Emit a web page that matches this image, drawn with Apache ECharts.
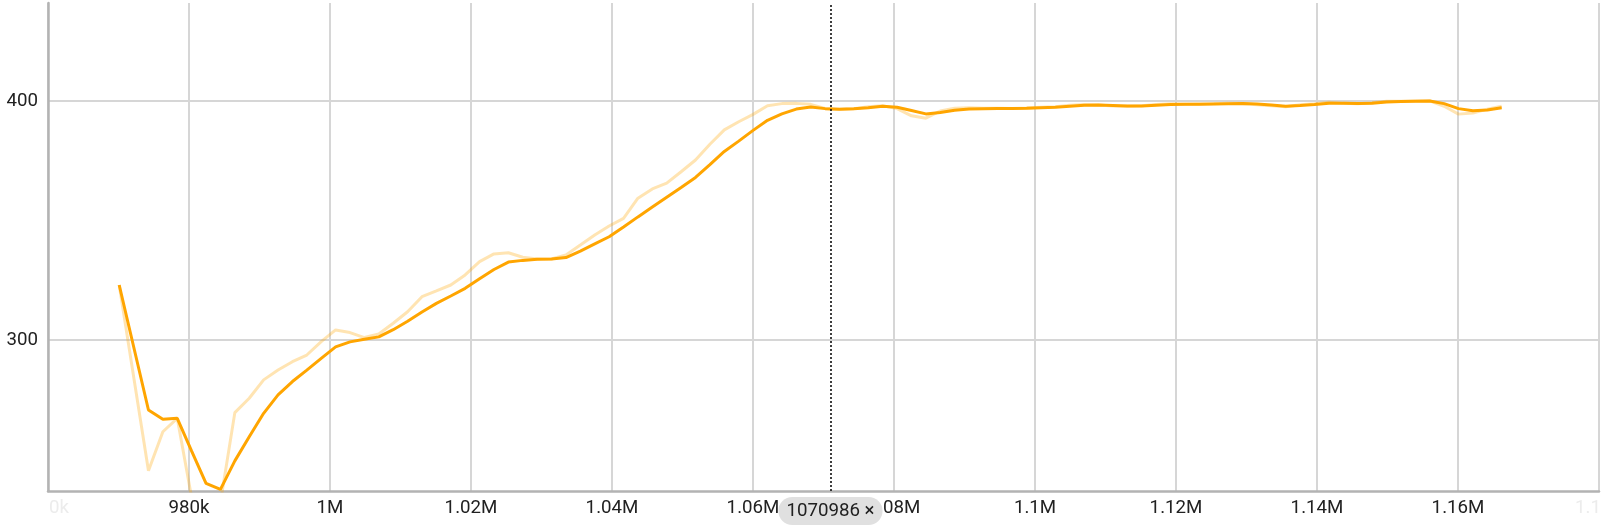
<!DOCTYPE html>
<html>
<head>
<meta charset="utf-8">
<title>scalar chart</title>
<script src="https://cdn.jsdelivr.net/npm/echarts@6/dist/echarts.min.js"></script>
<style>
	html, body {
		margin: 0;
		padding: 0;
		background: #fff;
	}
	#chart {
		width: 1614px;
		height: 527px;
	}
</style>
</head>
<body>
<div id="chart"></div>
<script>
// 横轴: step
const steps = [
	970100, 974250, 976292, 978334, 980376, 982418, 984460, 986502, 988544, 990586,
	992628, 994670, 996712, 998754, 1000796, 1002838, 1004880, 1006922, 1008964, 1011006,
	1013048, 1015090, 1017132, 1019174, 1021216, 1023258, 1025300, 1027342, 1029384, 1031426,
	1033468, 1035510, 1037552, 1039594, 1041636, 1043678, 1045720, 1047762, 1049804, 1051846,
	1053888, 1055930, 1057972, 1060014, 1062056, 1064098, 1066140, 1068182, 1070224, 1072266,
	1074308, 1076350, 1078392, 1080434, 1082476, 1084518, 1086560, 1088602, 1090644, 1092686,
	1094728, 1096770, 1098812, 1100854, 1102896, 1104938, 1106980, 1109022, 1111064, 1113106,
	1115148, 1117190, 1119232, 1121274, 1123316, 1125358, 1127400, 1129442, 1131484, 1133526,
	1135568, 1137610, 1139652, 1141694, 1143736, 1145778, 1147820, 1149862, 1151904, 1153946,
	1155988, 1158030, 1160072, 1162114, 1164156, 1166198,
]

// 平滑后的曲线（深色）
const smoothed = [
	323.0, 270.7, 266.8, 267.2, 253.5, 240.0, 237.5, 249.4, 259.5, 269.3,
	277.0, 282.6, 287.4, 292.3, 297.1, 299.2, 300.3, 301.3, 304.3, 307.8,
	311.7, 315.3, 318.4, 321.6, 325.6, 329.5, 332.6, 333.3, 333.8, 333.9,
	334.5, 337.2, 340.2, 343.2, 347.3, 351.5, 355.6, 359.7, 363.8, 368.0,
	373.4, 378.9, 383.2, 387.7, 391.9, 394.6, 396.6, 397.5, 396.8, 396.5,
	396.7, 397.2, 397.8, 397.4, 396.0, 394.6, 395.2, 396.1, 396.6, 396.8,
	396.9, 396.9, 397.0, 397.2, 397.4, 397.8, 398.2, 398.3, 398.1, 397.9,
	397.9, 398.2, 398.5, 398.6, 398.6, 398.7, 398.8, 398.9, 398.7, 398.3,
	397.8, 398.1, 398.5, 399.1, 399.1, 398.9, 399.1, 399.6, 399.8, 399.9,
	400.0, 398.9, 396.8, 395.9, 396.2, 397.2,
]

// 原始曲线（浅色）
const raw = [
	323.0, 245.3, 261.6, 267.2, 234.0, 226.0, 232.0, 269.6, 275.6, 283.3,
	287.4, 290.9, 293.7, 299.3, 304.2, 303.1, 301.0, 302.5, 307.0, 311.8,
	318.1, 320.5, 323.0, 327.2, 332.8, 336.0, 336.5, 334.6, 333.9, 333.9,
	335.6, 339.7, 343.9, 347.7, 350.9, 359.3, 363.2, 365.6, 370.4, 375.3,
	381.9, 387.9, 391.3, 394.4, 398.0, 398.9, 399.0, 398.6, 396.9, 396.5,
	396.8, 397.6, 398.0, 396.8, 393.8, 392.8, 395.8, 397.0, 397.2, 397.0,
	397.0, 396.9, 397.1, 397.4, 397.6, 398.2, 398.5, 398.3, 397.9, 397.8,
	398.0, 398.5, 398.8, 398.6, 398.7, 398.8, 399.0, 398.9, 398.4, 398.0,
	397.6, 398.4, 398.8, 399.5, 399.0, 398.8, 399.3, 399.9, 399.9, 400.0,
	400.1, 397.8, 394.5, 395.0, 396.6, 397.8,
]

// 纵轴刻度
const yTicks = [300, 400]
// 鼠标停留的位置
const hoverStep = 1070986

const font = 'Roboto, "Noto Sans", sans-serif'
const fontSize = 18.7
const lineColor = '#ffa500'

const toPairs = (vals) => steps.map((s, i) => [s, vals[i]])

const myChart = echarts.init(document.getElementById('chart'))

let option = {
	animation: false,
	grid: {
		left: 48,
		right: 15,
		top: 3,
		bottom: 36,
		containLabel: false,
		outerBoundsMode: 'none',
	},
	tooltip: {
		trigger: 'axis',
		triggerOn: 'none',
		showContent: false,
	},
	xAxis: {
		type: 'value',
		min: 960000,
		max: 1180000,
		interval: 20000,
		axisLine: { show: true, lineStyle: { color: '#b3b3b3', width: 2.5 } },
		axisTick: { show: false },
		splitLine: { show: true, lineStyle: { color: '#d6d6d6', width: 2 } },
		axisLabel: {
			margin: 8,
			fontSize: fontSize,
			fontFamily: font,
			color: '#212121',
			formatter: function (value) {
				// 两端被裁掉的标签
				if (value === 960000) return '{edgeL|0k}'
				if (value === 1180000) return '{edgeR|1.1}'
				if (value >= 1000000) return value / 1000000 + 'M'
				return value / 1000 + 'k'
			},
			rich: {
				edgeL: { color: '#ececec', fontSize: fontSize, fontFamily: font, width: 42, align: 'right' },
				edgeR: { color: '#ececec', fontSize: fontSize, fontFamily: font, width: 48, align: 'left' },
			},
		},
		axisPointer: {
			show: true,
			value: hoverStep,
			status: 'show',
			type: 'line',
			triggerTooltip: false,
			lineStyle: { color: '#111', width: 1.6, type: [2, 2] },
			label: {
				show: true,
				margin: 6,
				formatter: hoverStep + ' ×',
				fontSize: fontSize,
				fontFamily: font,
				color: '#212121',
				backgroundColor: '#e0e0e0',
				borderRadius: 14,
				padding: [5, 8, 4, 8],
			},
		},
	},
	yAxis: {
		type: 'value',
		min: 236.8,
		max: 441,
		axisLine: { show: true, lineStyle: { color: '#b3b3b3', width: 2.5 } },
		axisTick: { show: false, customValues: yTicks },
		splitLine: { show: true, lineStyle: { color: '#d6d6d6', width: 2 } },
		axisLabel: {
			margin: 10,
			fontSize: fontSize,
			fontFamily: font,
			color: '#212121',
			customValues: yTicks,
		},
	},
	series: [
		{
			name: 'raw',
			type: 'line',
			data: toPairs(raw),
			showSymbol: false,
			z: 2,
			lineStyle: { color: lineColor, width: 3, opacity: 0.3 },
		},
		{
			name: 'smoothed',
			type: 'line',
			data: toPairs(smoothed),
			showSymbol: false,
			z: 3,
			lineStyle: { color: lineColor, width: 3 },
		},
	],
}
myChart.setOption(option)
</script>
</body>
</html>
